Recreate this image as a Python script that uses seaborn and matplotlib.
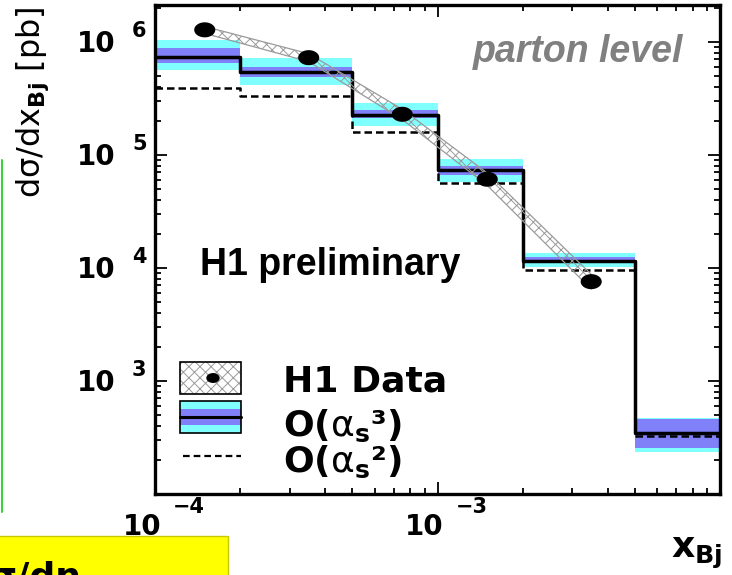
import numpy as np
import pandas as pd
import matplotlib
matplotlib.use("Agg")
import matplotlib.pyplot as plt
from matplotlib.patches import Rectangle, Ellipse
from matplotlib.lines import Line2D
from matplotlib.path import Path
from matplotlib.transforms import Affine2D
from matplotlib.ticker import LogLocator, NullFormatter
import seaborn as sns

# ---- x_Bj binning and cross sections [pb] ----
bin_edges = [1e-4, 2e-4, 5e-4, 1e-3, 2e-3, 5e-3, 1e-2]

nlo_central = [7.3e5, 5.4e5, 2.26e5, 7.3e4, 1.16e4, 344]      # O(alpha_s^3)
nlo_outer_hi = [1.04e6, 7.18e5, 2.87e5, 9.16e4, 1.36e4, 471]   # total uncertainty
nlo_outer_lo = [5.65e5, 4.16e5, 1.81e5, 5.8e4, 1.03e4, 237]
nlo_inner_hi = [8.85e5, 6.04e5, 2.5e5, 8.0e4, 1.26e4, 458]     # inner uncertainty
nlo_inner_lo = [6.5e5, 4.93e5, 2.11e5, 6.66e4, 1.1e4, 254]
lo_central = [3.94e5, 3.35e5, 1.61e5, 5.69e4, 9.6e3, 326]      # O(alpha_s^2)

# H1 measurement at bin centres
data_x = [1.5e-4, 3.5e-4, 7.5e-4, 1.5e-3, 3.5e-3]
data_y = [1.28e6, 7.26e5, 2.29e5, 6.1e4, 7.57e3]
data_hi = [1.37e6, 7.87e5, 2.54e5, 6.92e4, 8.8e3]
data_lo = [1.19e6, 6.7e5, 2.06e5, 5.37e4, 6.5e3]

x_tick_values = [1e-4, 1e-3]
x_tick_exps = ["\u22124", "\u22123"]
y_tick_values = [1e3, 1e4, 1e5, 1e6]
y_tick_exps = ["3", "4", "5", "6"]

CYAN = "#80FFFF"
BLUE = "#8080F8"
HATCH_GREY = "#9a9a9a"

sns.set_theme(style="ticks")
plt.rcParams["font.family"] = ["DejaVu Sans"]
plt.rcParams["mathtext.fontset"] = "dejavusans"
plt.rcParams["hatch.linewidth"] = 0.7
plt.rcParams["hatch.color"] = HATCH_GREY

W, H = 732, 575
fig = plt.figure(figsize=(W / 100, H / 100), dpi=100)
fig.patch.set_facecolor("white")
# pixel coordinates with origin at the top-left corner of the canvas
PX = Affine2D().scale(1 / W, -1 / H).translate(0, 1) + fig.transFigure

ax = fig.add_axes([155 / W, 1 - 494 / H, 565 / W, 489 / H])
ax.set_facecolor("white")
ax.set_xscale("log")
ax.set_yscale("log")
ax.set_xlim(1e-4, 1e-2)
ax.set_ylim(1e2, 10 ** 6.327)

# theory uncertainty bands
ax.stairs(nlo_outer_hi, bin_edges, baseline=nlo_outer_lo, fill=True,
          color=CYAN, lw=0, zorder=1)
ax.stairs(nlo_inner_hi, bin_edges, baseline=nlo_inner_lo, fill=True,
          color=BLUE, lw=0, zorder=2)

# histograms as steps
steps = pd.DataFrame({
    "x": bin_edges,
    "nlo": nlo_central + [nlo_central[-1]],
    "lo": lo_central + [lo_central[-1]],
})
sns.lineplot(data=steps, x="x", y="lo", drawstyle="steps-post", color="black",
             lw=1.8, ax=ax, zorder=3, legend=False)
ax.lines[-1].set_dashes([3, 1.6])
sns.lineplot(data=steps, x="x", y="nlo", drawstyle="steps-post", color="black",
             lw=2.5, ax=ax, zorder=4, legend=False)

# data error band
ax.fill_between(data_x, data_lo, data_hi, facecolor="none", edgecolor=HATCH_GREY,
                hatch="xxx", lw=0, zorder=5)
ax.plot(data_x, data_hi, color=HATCH_GREY, lw=0.9, zorder=5)
ax.plot(data_x, data_lo, color=HATCH_GREY, lw=0.9, zorder=5)

# data points (slightly wide dots)
theta = np.linspace(0, 2 * np.pi, 64)
dot = Path(np.column_stack([1.4 * np.cos(theta), np.sin(theta)]), closed=True)
sns.scatterplot(x=data_x, y=data_y, marker=dot, s=230, color="black",
                edgecolor="none", ax=ax, zorder=6, legend=False)

ax.set_xlabel("")
ax.set_ylabel("")

# frame and ticks
for sp in ax.spines.values():
    sp.set_linewidth(2.4)
    sp.set_color("black")
    sp.set_visible(True)
ax.xaxis.set_minor_locator(LogLocator(base=10, subs=range(2, 10), numticks=50))
ax.yaxis.set_minor_locator(LogLocator(base=10, subs=range(2, 10), numticks=50))
ax.xaxis.set_minor_formatter(NullFormatter())
ax.yaxis.set_minor_formatter(NullFormatter())
ax.tick_params(which="both", direction="in", top=True, right=True,
               labelbottom=False, labelleft=False, color="black", width=1.3)
ax.tick_params(which="major", length=8.5)
ax.tick_params(which="minor", length=4.5)

# tick labels in "10 ^n" style
tick_font = dict(fontweight="bold", color="black", family=["DejaVu Sans"])
for xv, ex in zip(x_tick_values, x_tick_exps):
    ax.annotate("10", xy=(xv, 0), xycoords=("data", "axes fraction"),
                xytext=(-13, -41), textcoords="offset pixels",
                ha="center", va="baseline", fontsize=20, **tick_font)
    ax.annotate(ex, xy=(xv, 0), xycoords=("data", "axes fraction"),
                xytext=(18, -19), textcoords="offset pixels",
                ha="left", va="baseline", fontsize=15, **tick_font)
for yv, ex in zip(y_tick_values, y_tick_exps):
    ax.annotate("10", xy=(0, yv), xycoords=("axes fraction", "data"),
                xytext=(-40, -10), textcoords="offset pixels",
                ha="right", va="baseline", fontsize=20, **tick_font)
    ax.annotate(ex, xy=(0, yv), xycoords=("axes fraction", "data"),
                xytext=(-23, 5), textcoords="offset pixels",
                ha="left", va="baseline", fontsize=15, **tick_font)

# axis titles
fig.text(33, 6, "d\u03c3/dx" + r"${}_{\mathbf{Bj}}$ [pb]",
         transform=PX, rotation=90, ha="center", va="top", fontsize=23,
         color="black")
fig.text(722, 558, r"x${}_{\mathbf{Bj}}$", transform=PX, ha="right",
         va="baseline", fontsize=26, fontweight="bold", color="black")

# annotations inside the frame
fig.text(200, 275, "H1 preliminary", transform=PX, ha="left", va="baseline",
         fontsize=27, fontweight="bold", family=["Liberation Sans"], color="black")
fig.text(473, 62, "parton level", transform=PX, ha="left", va="baseline",
         fontsize=27, fontweight="bold", fontstyle="italic",
         family=["Liberation Sans"], color="#808080")

# legend
fig.add_artist(Rectangle((180, 362), 61, 32, transform=PX, facecolor="white",
                         edgecolor=HATCH_GREY, hatch="xxx", lw=0, zorder=7))
fig.add_artist(Rectangle((180, 362), 61, 32, transform=PX, facecolor="none",
                         edgecolor="black", lw=1.2, zorder=8))
fig.add_artist(Ellipse((213, 378), 12, 8.5, transform=PX, color="black", zorder=9))

fig.add_artist(Rectangle((180, 401), 61, 32, transform=PX, facecolor=CYAN,
                         lw=0, zorder=7))
fig.add_artist(Rectangle((180, 409), 61, 16, transform=PX, facecolor=BLUE,
                         lw=0, zorder=8))
fig.add_artist(Line2D([180, 241], [417, 417], transform=PX, color="black",
                      lw=2.2, zorder=9))
fig.add_artist(Rectangle((180, 401), 61, 32, transform=PX, facecolor="none",
                         edgecolor="black", lw=1.2, zorder=9))
fig.add_artist(Line2D([183, 241], [456, 456], transform=PX, color="black",
                      lw=1.6, dashes=[3, 1.8], zorder=9))

leg_font = dict(transform=PX, ha="left", va="baseline", fontsize=26,
                fontweight="bold", color="black")
fig.text(283, 392, "H1 Data", **leg_font)
fig.text(283, 436, r"O($\mathrm{\alpha}_{\mathbf{s}}$" + "\u00b3)", **leg_font)
fig.text(283, 472, r"O($\mathrm{\alpha}_{\mathbf{s}}$" + "\u00b2)", **leg_font)

# surrounding slide elements
fig.add_artist(Line2D([1.5, 1.5], [160, 512], transform=PX, color="#3ad43a", lw=1.5))
fig.add_artist(Rectangle((-2, 536), 230, 45, transform=PX, facecolor="#ffff00",
                         edgecolor="#c8c800", lw=1))
fig.text(-12, 588, "\u03c3/d\u03b7", transform=PX, ha="left", va="baseline",
         fontsize=26, fontweight="bold", color="black")

fig.savefig("out.png", dpi=100, facecolor="white")
